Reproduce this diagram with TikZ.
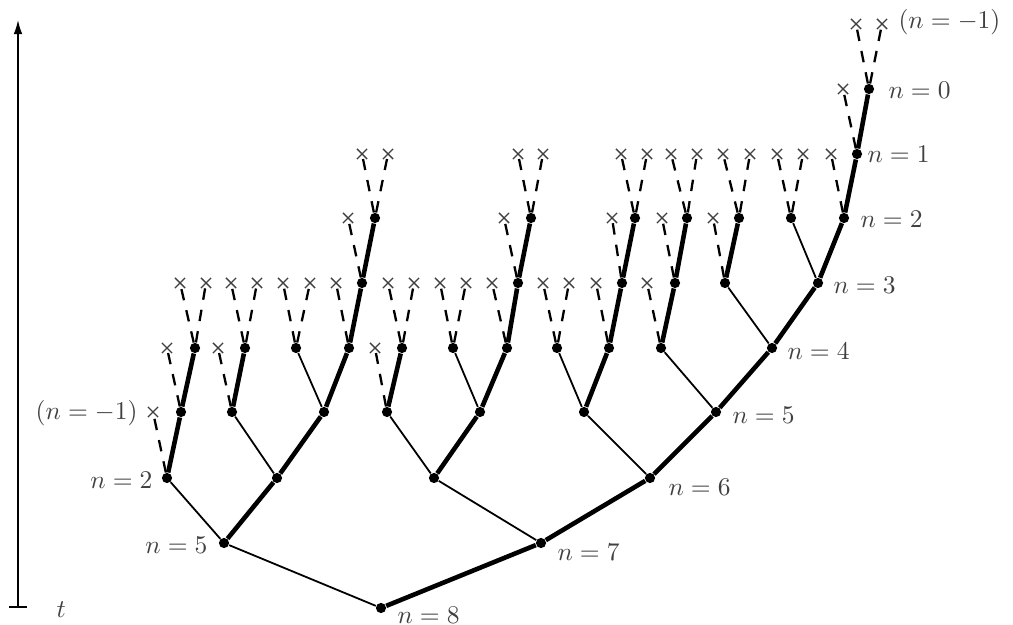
\documentclass[tikz,border=0pt]{standalone}
\usepackage{amsmath}
\usepackage{tikz}
\usetikzlibrary{arrows.meta,shapes.misc}

\begin{document}
\begin{tikzpicture}[
  x=0.392pt, y=-0.392pt,
  % resolved progenitors are dots, unresolved ones end in a cross
  halo/.style={circle, fill=black, inner sep=0pt, minimum size=4pt},
  lost/.style={cross out, draw=black!75, line width=0.55pt, inner sep=0pt, minimum size=3.4pt},
  mainbr/.style={line width=1.8pt},
  sidebr/.style={line width=0.7pt},
  resbr/.style={line width=0.9pt, dash pattern=on 4.5pt off 4pt},
  lbl/.style={anchor=west, inner sep=0pt, text=black!75}
]
\useasboundingbox (0,0) rectangle (1013,625);

% time axis
\coordinate (t0) at (18,608);
\coordinate (t1) at (18,20);
\draw[line width=0.6pt, {Bar[width=7pt]}-{Latex[length=5.5pt,width=3.4pt]}] (t0) -- (t1);
\node[lbl] (tl) at (56,610) {$t$};

% haloes, level by level
\foreach \n/\x/\y in {r/381/608,
    b1/224/543, b2/541/543,
    c1/167/478, c2/277/478, c3/434/478, c4/650/478,
    d1/181/412, d2/232/412, d3/324/412, d4/387/412, d5/480/412, d6/584/412, d7/716/412,
    e1/195/348, e2/245/348, e3/296/348, e4/349/348, e5/402/348, e6/453/348,
    e7/507/348, e8/557/348, e9/609/348, e10/661/348, e11/772/348,
    f1/362/283, f2/518/283, f3/622/283, f4/675/283, f5/725/283, f6/818/283,
    g1/375/218, g2/531/218, g3/635/218, g4/687/218, g5/739/218, g6/791/218, g7/844/218,
    h1/857/154, i1/869/89}
  \node[halo] (\n) at (\x,\y) {};

% most massive progenitor
\foreach \a/\b in {r/b2, b1/c2, b2/c4, c1/d1, c2/d3, c3/d5, c4/d7,
                   d1/e1, d2/e2, d3/e4, d4/e5, d5/e7, d6/e9, d7/e11,
                   e4/f1, e7/f2, e9/f3, e10/f4, e11/f6,
                   f1/g1, f2/g2, f3/g3, f4/g4, f5/g5, f6/g7, g7/h1, h1/i1}
  \draw[mainbr] (\a) -- (\b);

% second progenitor
\foreach \a/\b in {r/b1, b1/c1, b2/c3, c2/d2, c3/d4, c4/d6,
                   d3/e3, d5/e6, d6/e8, d7/e10, e11/f5, f6/g6}
  \draw[sidebr] (\a) -- (\b);

% below resolution
\foreach \p/\c/\x/\y in {c1/c1a/153/412, d1/d1a/167/348, d2/d2a/218/348, d4/d4a/375/348,
    e1/e1a/180/283, e1/e1b/206/283, e2/e2a/231/283, e2/e2b/257/283,
    e3/e3a/283/283, e3/e3b/310/283, e4/e4a/336/283,
    e5/e5a/388/283, e5/e5b/414/283, e6/e6a/440/283, e6/e6b/466/283, e7/e7a/492/283,
    e8/e8a/543/283, e8/e8b/569/283, e9/e9a/596/283, e10/e10a/647/283,
    f1/f1a/348/218, f2/f2a/504/218, f3/f3a/612/218, f4/f4a/662/218, f5/f5a/713/218,
    g1/g1a/362/154, g1/g1b/388/154, g2/g2a/518/154, g2/g2b/543/154,
    g3/g3a/621/154, g3/g3b/647/154, g4/g4a/671/154, g4/g4b/697/154,
    g5/g5a/723/154, g5/g5b/750/154, g6/g6a/777/154, g6/g6b/803/154, g7/g7a/831/154,
    h1/h1a/843/89, i1/i1a/856/24, i1/i1b/882/24}
  {\node[lost] (\c) at (\x,\y) {};
   \draw[resbr] (\p) -- (\c);}

% snapshot labels
\node[lbl] (l8) at (397,615) {$n=8$};
\node[lbl] (l7) at (557,552) {$n=7$};
\node[lbl] (l6) at (668,487) {$n=6$};
\node[lbl] (l5) at (732,415) {$n=5$};
\node[lbl] (l4) at (787,351) {$n=4$};
\node[lbl] (l3) at (833,285) {$n=3$};
\node[lbl] (l2) at (860,219) {$n=2$};
\node[lbl] (l1) at (867,154) {$n=1$};
\node[lbl] (l0) at (888,90) {$n=0$};
\node[lbl] (lm) at (898,22) {$(n=-1)$};
\node[lbl, anchor=east] (lmb) at (138,413) {$(n=-1)$};
\node[lbl, anchor=east] (l2b) at (153,480) {$n=2$};
\node[lbl, anchor=east] (l5b) at (208,545) {$n=5$};
\end{tikzpicture}
\end{document}
